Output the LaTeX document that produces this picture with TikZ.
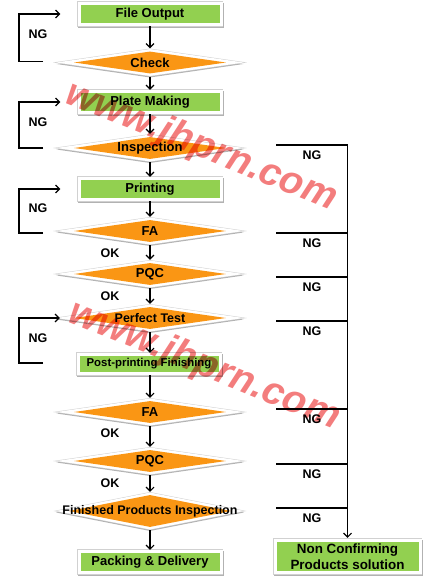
\documentclass[tikz,border=0pt]{standalone}
\usepackage{fontspec}
\setmainfont{Liberation Sans}
\usetikzlibrary{shapes.geometric,arrows.meta}
\definecolor{boxgreen}{RGB}{146,208,80}
\definecolor{diaorange}{RGB}{250,150,20}
\definecolor{wmred}{RGB}{243,125,125}
\begin{document}
\begin{tikzpicture}[x=1pt,y=-1pt,
  fs/.style={font=\fontsize{#1}{#1}\selectfont\bfseries},
  ln/.style={line width=1.1pt, draw=black},
  arr/.style={ln, -{Straight Barb[length=4pt,width=8pt]}},
  gbox/.style={rectangle, fill=boxgreen, minimum width=139, minimum height=18, inner sep=0, fs=13, align=center,
    preaction={draw=black!30, line width=7, transform canvas={shift={(0.8pt,-1.5pt)}}},
    preaction={draw=black!18, line width=7.5},
    preaction={draw=white, line width=6}},
  dia/.style={diamond, fill=diaorange, minimum width=152, minimum height=22, inner sep=0,
    preaction={draw=black!30, line width=5, transform canvas={shift={(0pt,-1.5pt)}}},
    preaction={draw=black!18, line width=6},
    preaction={draw=white, line width=5}},
  lab/.style={fs=12.5},
  wm/.style={font=\fontsize{39}{39}\selectfont\bfseries\itshape, text=wmred, blend mode=multiply, inner sep=0}
]
\useasboundingbox (0,0) rectangle (427,580);

% main column
\node[gbox] (fo) at (150,14) {File Output};
\node[dia, label={[fs=13]center:Check}] (chk) at (150,62.5) {};
\node[gbox] (pm) at (150,102) {Plate Making};
\node[dia, label={[fs=13]center:Inspection}] (insp) at (150,148) {};
\node[gbox] (prt) at (150,189) {Printing};
\node[dia, label={[fs=13]center:FA}] (fa1) at (150,231) {};
\node[dia, label={[fs=13]center:PQC}] (pqc1) at (150,274) {};
\node[dia, label={[fs=12.5]center:Perfect Test}] (pt) at (150,318) {};
\node[gbox, minimum height=16, fs=11.4] (ppf) at (149,364) {Post-printing Finishing};
\node[dia, label={[fs=13]center:FA}] (fa2) at (150,412) {};
\node[dia, label={[fs=13]center:PQC}] (pqc2) at (150,461) {};
\node[dia, minimum width=162, minimum height=32, label={[fs=12.5]center:Finished Products Inspection}] (fpi) at (150,511) {};
\node[gbox] (pd) at (150,562) {Packing \& Delivery};
\node[gbox, minimum width=142, minimum height=29, fs=13.4] (ncp) at (347.5,556.5) {Non Confirming\\[3pt]Products solution};

% down arrows
\foreach \a/\b in {fo/chk,chk/pm,pm/insp,insp/prt,prt/fa1,fa1/pqc1,pqc1/pt,pt/ppf,ppf/fa2,fa2/pqc2,pqc2/fpi,fpi/pd}
  \draw[arr, shorten <=3pt, shorten >=3pt] (\a.south -| 150,0) -- (\b.north -| 150,0);

% OK labels
\node[lab] (ok1) at (110,253) {OK};
\node[lab] (ok2) at (110,296) {OK};
\node[lab] (ok3) at (110,433) {OK};
\node[lab] (ok4) at (110,483) {OK};

% left NG loops
\coordinate (l1) at (43,61.5);
\coordinate (l2) at (43,148);
\coordinate (l3) at (43,233);
\coordinate (l4) at (43,363);
\draw[arr] (l1) -- (19,61.5) |- ([xshift=-20pt]fo.west);
\draw[arr] (l2) -- (19,148) |- ([xshift=-20pt]pm.west);
\draw[arr] (l3) -- (19,233) |- ([xshift=-20pt]prt.west);
\draw[arr] (l4) -- (19,363) |- ([xshift=-14pt]pt.west);
\node[lab] (ngl1) at (38,34) {NG};
\node[lab] (ngl2) at (38,122) {NG};
\node[lab] (ngl3) at (38,208) {NG};
\node[lab] (ngl4) at (38,338) {NG};

% right NG lines
\coordinate (r1) at (276,145);
\coordinate (r2) at (276,233);
\coordinate (r3) at (276,277);
\coordinate (r4) at (276,321);
\coordinate (r5) at (276,409);
\coordinate (r6) at (276,464);
\coordinate (r7) at (276,508);
\draw[arr, shorten >=4pt] (r1) -| (ncp.north);
\foreach \r in {r2,r3,r4,r5,r6,r7}
  \draw[ln] (\r) -- (\r -| ncp.north);
\node[lab] (ngr1) at (312,155) {NG};
\node[lab] (ngr2) at (312,243) {NG};
\node[lab] (ngr3) at (312,287) {NG};
\node[lab] (ngr4) at (312,331) {NG};
\node[lab] (ngr5) at (312,419) {NG};
\node[lab] (ngr6) at (312,474) {NG};
\node[lab] (ngr7) at (312,518) {NG};

% watermark
\node[wm, rotate=-22] (wm1) at (201,147) {www.jhprn.com};
\node[wm, rotate=-22] (wm2) at (204,366) {www.jhprn.com};
\end{tikzpicture}
\end{document}
